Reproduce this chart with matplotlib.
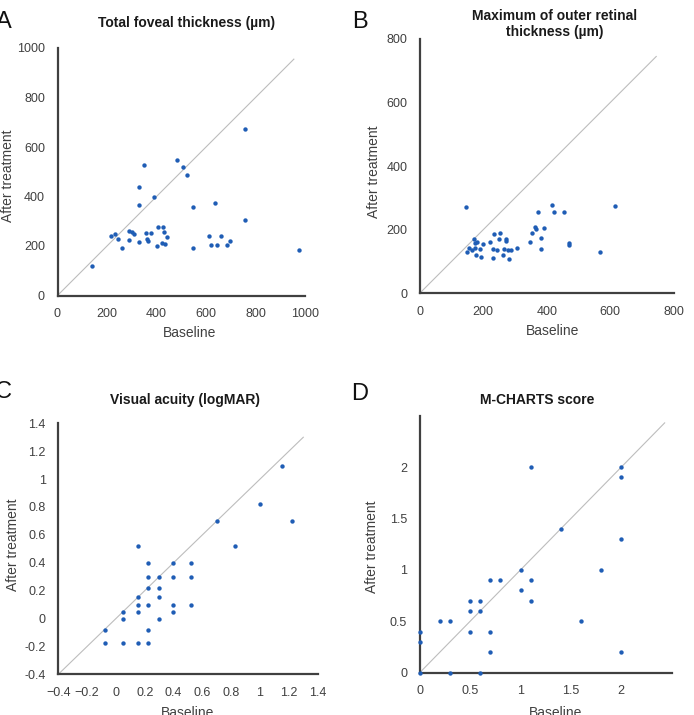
import matplotlib
matplotlib.use("Agg")
import matplotlib.pyplot as plt

plt.rcParams['font.family'] = ['Liberation Sans', 'DejaVu Sans']

# ---- Data ----
# A: Total foveal thickness (µm)
a_base = [140, 218, 234, 246, 262, 290, 303, 308, 290, 328, 328, 330, 350, 357, 363, 366,
          379, 390, 400, 408, 425, 432, 442, 421, 436, 483, 509, 524, 548, 546, 611, 621,
          637, 645, 661, 685, 695, 757, 757, 974]
a_after = [120, 240, 250, 230, 193, 262, 257, 249, 223, 216, 365, 437, 526, 251, 230, 220,
           251, 397, 201, 278, 277, 257, 235, 214, 208, 549, 520, 486, 359, 193, 241, 206,
           375, 206, 241, 204, 220, 672, 305, 184]

# B: Maximum of outer retinal thickness (µm)
b_base = [146, 149, 156, 164, 170, 173, 180, 173, 178, 190, 193, 200, 221, 231, 231, 234,
          245, 250, 253, 262, 266, 271, 272, 277, 280, 288, 308, 348, 353, 364, 367, 373,
          381, 381, 391, 416, 422, 453, 469, 470, 567, 614]
b_after = [272, 131, 142, 135, 171, 159, 162, 142, 120, 140, 115, 155, 162, 139, 110, 186,
           135, 170, 189, 121, 139, 171, 165, 136, 107, 136, 143, 162, 191, 208, 203, 257,
           175, 139, 205, 278, 255, 255, 152, 158, 131, 276]

# C: Visual acuity (logMAR)
c_base = [-0.079, -0.079, 0.046, 0.046, 0.046, 0.155, 0.155, 0.155, 0.155, 0.155,
          0.222, 0.222, 0.222, 0.222, 0.222, 0.222, 0.301, 0.301, 0.301, 0.301,
          0.398, 0.398, 0.398, 0.398, 0.523, 0.523, 0.523, 0.699, 0.824, 1.0, 1.155, 1.222]
c_after = [-0.079, -0.176, 0.046, 0.0, -0.176, 0.523, 0.155, 0.097, 0.046, -0.176,
           0.398, 0.301, 0.222, 0.097, -0.079, -0.176, 0.301, 0.222, 0.155, 0.0,
           0.398, 0.301, 0.097, 0.046, 0.398, 0.301, 0.097, 0.699, 0.523, 0.824, 1.097, 0.699]

# D: M-CHARTS score
d_base = [0, 0, 0, 0.2, 0.3, 0.3, 0.5, 0.5, 0.5, 0.6, 0.6, 0.6, 0.7, 0.7, 0.7, 0.8,
          1.0, 1.0, 1.1, 1.1, 1.1, 1.4, 1.6, 1.8, 2.0, 2.0, 2.0, 2.0]
d_after = [0, 0.3, 0.4, 0.5, 0.5, 0, 0.7, 0.6, 0.4, 0.7, 0.6, 0, 0.9, 0.4, 0.2, 0.9,
           1.0, 0.8, 2.0, 0.9, 0.7, 1.4, 0.5, 1.0, 2.0, 1.9, 1.3, 0.2]

titles = ["Total foveal thickness (µm)", "Maximum of outer retinal\nthickness (µm)",
          "Visual acuity (logMAR)", "M-CHARTS score"]
panel_letters = ["A", "B", "C", "D"]
a_ticks = [0, 200, 400, 600, 800, 1000]
b_ticks = [0, 200, 400, 600, 800]
c_ticks = [-0.4, -0.2, 0, 0.2, 0.4, 0.6, 0.8, 1, 1.2, 1.4]
d_ticks = [0, 0.5, 1, 1.5, 2]

W, H = 694, 715
fig = plt.figure(figsize=(W / 100, H / 100), dpi=100)

DOT = '#1F5DB5'
SPINE = '#404040'
TXT = '#404040'


def add_ax(l, r, t, b):
    return fig.add_axes([l / W, 1 - b / H, (r - l) / W, (b - t) / H])


def fmt(v):
    return f"{v:g}"


def style(ax, xlim, ylim, xt, yt, diag, xlab_pos, ylab_pos):
    ax.set_xlim(*xlim)
    ax.set_ylim(*ylim)
    for s in ['top', 'right']:
        ax.spines[s].set_visible(False)
    for s in ['left', 'bottom']:
        ax.spines[s].set_color(SPINE)
        ax.spines[s].set_linewidth(1.6)
    ax.set_xticks(xt)
    ax.set_yticks(yt)
    ax.set_xticklabels([fmt(v) for v in xt])
    ax.set_yticklabels([fmt(v) for v in yt])
    ax.tick_params(length=0, labelsize=9, colors=TXT, pad=9)
    ax.plot([diag[0], diag[1]], [diag[0], diag[1]], color='#BDBDBD', lw=0.8, zorder=1)
    ax.set_xlabel("Baseline", fontsize=10, color=TXT, va='center')
    ax.set_ylabel("After treatment", fontsize=10, color=TXT, va='center')
    ax.xaxis.set_label_coords(xlab_pos[0] / W, 1 - xlab_pos[1] / H, transform=fig.transFigure)
    ax.yaxis.set_label_coords(ylab_pos[0] / W, 1 - ylab_pos[1] / H, transform=fig.transFigure)
    ax.patch.set_visible(False)


# Panel A
axA = add_ax(57.5, 305, 48, 295.5)
axA.scatter(a_base, a_after, s=10, color=DOT, zorder=3, linewidths=0)
style(axA, (0, 1000), (0, 1000), a_ticks, a_ticks, (0, 955), (190, 333), (8, 176))

# Panel B
axB = add_ax(419.7, 673.7, 39, 293.3)
axB.scatter(b_base, b_after, s=10, color=DOT, zorder=3, linewidths=0)
style(axB, (0, 800), (0, 800), b_ticks, b_ticks, (0, 745), (553, 331), (374, 172))

# Panel C
axC = add_ax(58.3, 317.7, 423.3, 674.3)
axC.scatter(c_base, c_after, s=10, color=DOT, zorder=3, linewidths=0)
style(axC, (-0.4, 1.4), (-0.4, 1.4), c_ticks, c_ticks, (-0.4, 1.3), (188, 713), (13, 545))
axC.set_xticklabels(["\u22120.4", "\u22120.2"] + [fmt(v) for v in c_ticks[2:]])
axC.set_yticklabels(["-0.4", "-0.2"] + [fmt(v) for v in c_ticks[2:]])

# Panel D
axD = add_ax(419.7, 671.7, 415.7, 672.7)
axD.scatter(d_base, d_after, s=10, color=DOT, zorder=3, linewidths=0, clip_on=False)
style(axD, (0, 2.5), (0, 2.5), d_ticks, d_ticks, (0, 2.43), (556, 713), (372, 547))

# Titles
title_pos = [(187, 23), (555, 24), (185, 400), (537, 400)]
for t, (x, y) in zip(titles, title_pos):
    fig.text(x / W, 1 - y / H, t, ha='center', va='center', fontsize=10,
             fontweight='bold', color='#1a1a1a', linespacing=1.25)

# Panel letters
letter_pos = [(4, 22), (360, 22), (3, 392), (360, 394)]
for L, (x, y) in zip(panel_letters, letter_pos):
    fig.text(x / W, 1 - y / H, L, ha='center', va='center', fontsize=17, color='#111111')

fig.savefig("out.png", dpi=100, facecolor='white')
